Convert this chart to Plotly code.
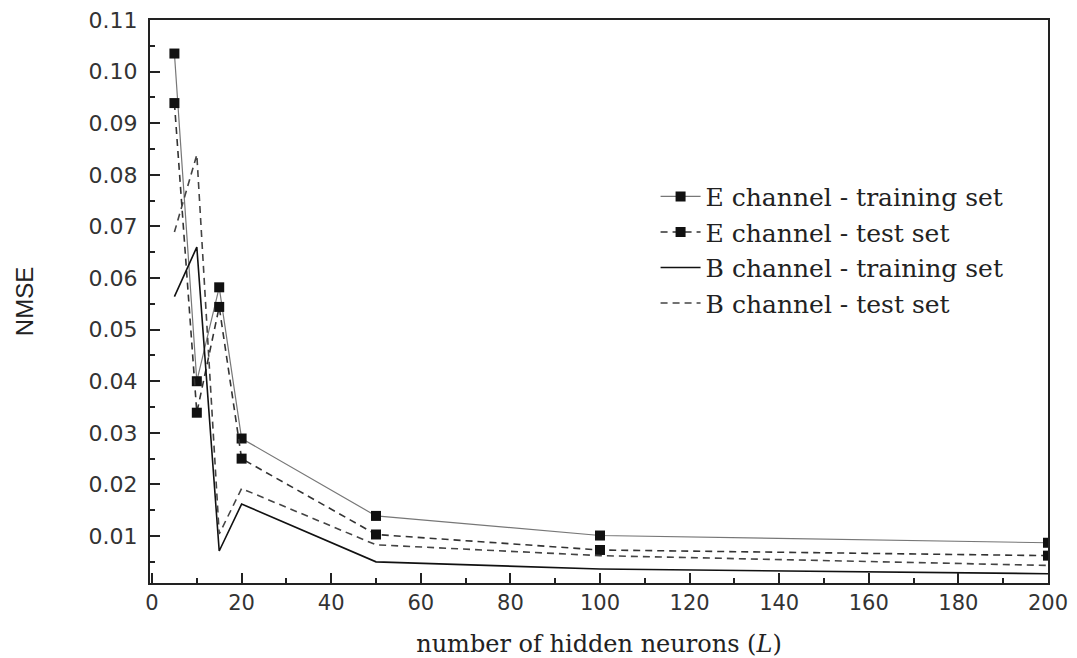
import plotly.graph_objects as go

neurons = [5, 10, 15, 20, 50, 100, 200]
e_train = [0.1035, 0.0400, 0.0582, 0.0289, 0.0139, 0.0101, 0.0087]
e_test = [0.0939, 0.0339, 0.0544, 0.0250, 0.0103, 0.0073, 0.0062]
b_train = [0.0564, 0.0660, 0.0071, 0.0162, 0.0050, 0.0036, 0.0027]
b_test = [0.0689, 0.0839, 0.0104, 0.0192, 0.0083, 0.0062, 0.0043]

names = ["E channel - training set", "E channel - test set",
         "B channel - training set", "B channel - test set"]

fig = go.Figure()
fig.add_trace(go.Scatter(x=neurons, y=e_train, name=names[0], mode="lines+markers",
                         line=dict(color="#777777", width=1.2),
                         marker=dict(symbol="square", size=10, color="#111111")))
fig.add_trace(go.Scatter(x=neurons, y=e_test, name=names[1], mode="lines+markers",
                         line=dict(color="#333333", width=1.6, dash="7px,5px"),
                         marker=dict(symbol="square", size=10, color="#111111")))
fig.add_trace(go.Scatter(x=neurons, y=b_train, name=names[2], mode="lines",
                         line=dict(color="#111111", width=1.6)))
fig.add_trace(go.Scatter(x=neurons, y=b_test, name=names[3], mode="lines",
                         line=dict(color="#444444", width=1.6, dash="7px,5px")))

axis_common = dict(showgrid=False, zeroline=False, showline=True, linecolor="#222222",
                   linewidth=2, mirror=True, ticks="inside", tickcolor="#222222",
                   tickwidth=2, ticklen=10, automargin=False)

fig.update_xaxes(range=[-0.45, 200], dtick=20, tick0=0,
                 tickfont=dict(family="DejaVu Sans", size=21, color="#333333"),
                 minor=dict(ticks="inside", dtick=10, ticklen=5, tickwidth=2, tickcolor="#222222"),
                 title=dict(text="number of hidden neurons (<i>L</i>)", standoff=22,
                            font=dict(family="DejaVu Serif", size=24, color="#222222")),
                 **axis_common)
fig.update_yaxes(range=[0.0009, 0.11], dtick=0.01, tick0=0, tickformat=".2f",
                 tickfont=dict(family="DejaVu Sans", size=22, color="#333333"),
                 ticklabelstandoff=6,
                 minor=dict(ticks="inside", dtick=0.005, ticklen=5, tickwidth=2, tickcolor="#222222"),
                 title=dict(text="NMSE", standoff=48,
                            font=dict(family="Liberation Sans", size=24, color="#222222")),
                 **axis_common)

fig.update_layout(
    width=1077, height=658,
    margin=dict(l=150, r=29, t=20, b=75),
    paper_bgcolor="white", plot_bgcolor="white",
    legend=dict(x=0.563, y=0.727, xanchor="left", yanchor="top",
                font=dict(family="DejaVu Serif", size=25, color="#222222"),
                bgcolor="rgba(0,0,0,0)", itemwidth=40, tracegroupgap=0),
    showlegend=True,
)

fig.write_html("out.html", config={"displayModeBar": False},
               post_script="document.body.style.margin='0';")
